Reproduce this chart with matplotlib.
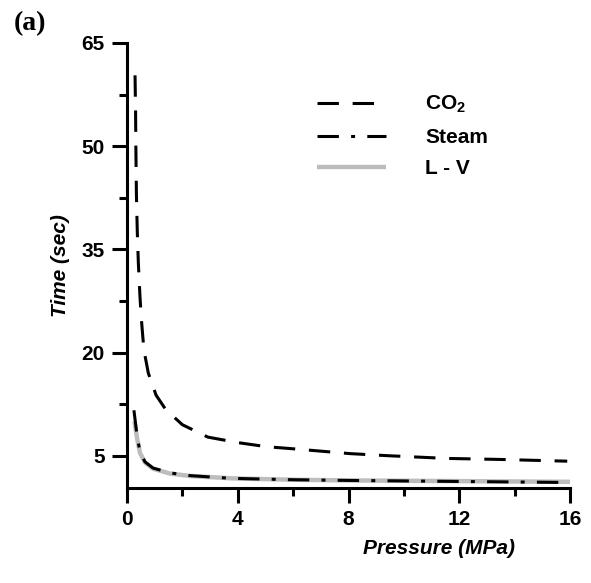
import matplotlib
matplotlib.use("Agg")
import matplotlib.pyplot as plt
from matplotlib.ticker import MultipleLocator

plt.rcParams['font.family'] = ['Liberation Sans', 'DejaVu Sans']
plt.rcParams['mathtext.fontset'] = 'custom'
plt.rcParams['mathtext.rm'] = 'Liberation Sans:bold'
plt.rcParams['mathtext.bf'] = 'Liberation Sans:bold'
plt.rcParams['mathtext.it'] = 'Liberation Sans:bold:italic'

# Data
co2_p = [0.29, 0.31, 0.32, 0.34, 0.37, 0.41, 0.47, 0.53, 0.61, 0.77, 1.05, 1.4, 2.0, 2.92,
         4.0, 5.05, 6.0, 8.05, 9.4, 11.55, 13.5, 15.9]
co2_t = [60.3, 55.0, 50.0, 43.0, 37.8, 33.0, 28.0, 24.3, 20.4, 17.0, 13.8, 11.7, 9.5, 7.7,
         6.9, 6.3, 6.0, 5.3, 5.0, 4.6, 4.45, 4.2]

steam_p = [0.25, 0.36, 0.47, 0.65, 0.94, 1.55, 2.27, 3.8, 6.0, 8.0, 12.0, 16.0]
steam_t = [11.6, 8.0, 5.5, 4.1, 3.2, 2.5, 2.1, 1.7, 1.5, 1.4, 1.25, 1.1]

lv_p = [0.27, 0.36, 0.47, 0.65, 0.94, 1.55, 2.27, 3.8, 6.0, 8.0, 12.0, 16.0]
lv_t = [10.0, 7.6, 5.4, 4.0, 3.1, 2.4, 2.05, 1.7, 1.5, 1.4, 1.3, 1.2]

x_major = [0, 4, 8, 12, 16]
y_major = [5, 20, 35, 50, 65]

fig = plt.figure(figsize=(5.91, 5.83), dpi=100)
ax = fig.add_axes([127/591, 1-488/583, (570-127)/591, (488-43)/583])

ax.plot(lv_p, lv_t, color='#bdbdbd', lw=3.2, solid_capstyle='butt', label='L - V', zorder=2)
ax.plot(steam_p, steam_t, color='black', lw=2.2, dashes=(7, 4, 1.3, 4), label='Steam', zorder=3)
ax.plot(co2_p, co2_t, color='black', lw=2.2, dashes=(7, 4.5), label='CO$_2$', zorder=3)

ax.set_xlim(0, 16)
ax.set_ylim(0.3, 65)
ax.set_xticks(x_major)
ax.set_yticks(y_major)
ax.xaxis.set_minor_locator(MultipleLocator(2))
ax.set_yticks([12.5, 27.5, 42.5, 57.5], minor=True)

for s in ['top', 'right']:
    ax.spines[s].set_visible(False)
for s in ['left', 'bottom']:
    ax.spines[s].set_linewidth(2.2)

ax.tick_params(which='major', length=11, width=2.2, direction='out', labelsize=15, pad=5)
ax.tick_params(which='minor', length=6, width=2.2, direction='out')
for lab in ax.get_xticklabels() + ax.get_yticklabels():
    lab.set_fontweight('bold')

ax.set_ylabel('Time (sec)', fontsize=15, fontweight='bold', fontstyle='italic', labelpad=8)
ax.set_xlabel('Pressure (MPa)', fontsize=15, fontweight='bold', fontstyle='italic')
ax.xaxis.set_label_coords(0.705, -0.115)

handles, labels = ax.get_legend_handles_labels()
order = [2, 1, 0]
leg = fig.legend([handles[i] for i in order], [labels[i] for i in order],
                 loc='upper left', bbox_to_anchor=(317/591, 1-94/583),
                 frameon=False, borderpad=0, borderaxespad=0,
                 handlelength=3.3, handletextpad=1.9, labelspacing=0.6,
                 prop={'weight': 'bold', 'size': 15})

fig.text(14/591, 1-30/583, '(a)', fontsize=20, fontweight='bold', family='Liberation Serif')

fig.savefig('out.png', dpi=100)
